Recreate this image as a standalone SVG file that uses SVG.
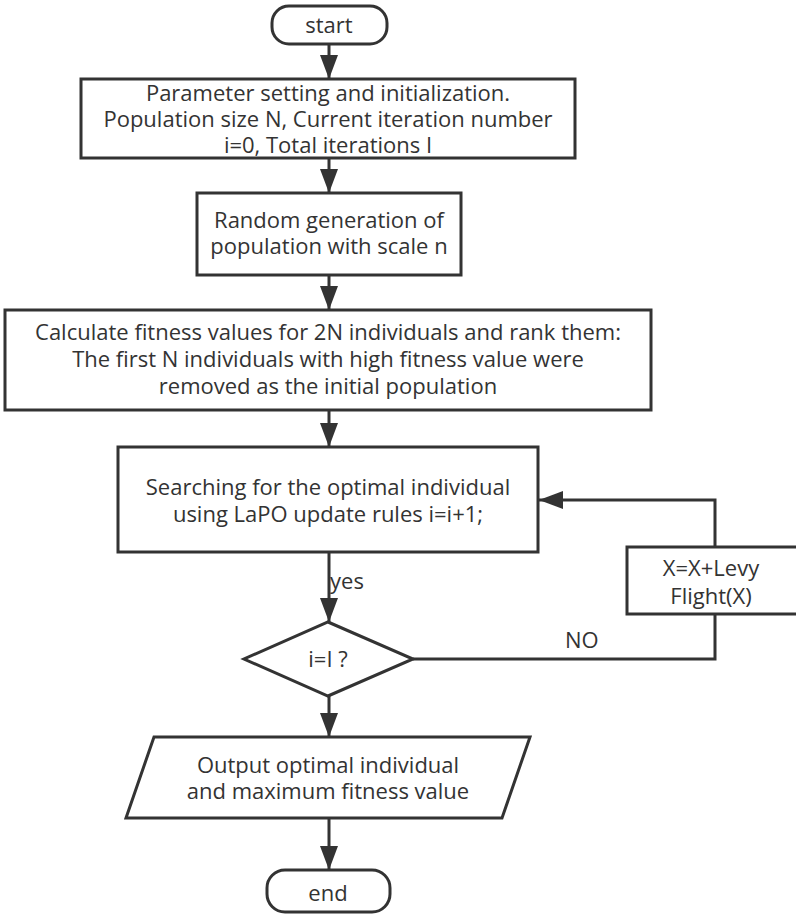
<svg xmlns="http://www.w3.org/2000/svg" width="796" height="916" viewBox="0 0 796 916">
  <defs>
    <!-- filled triangular head, drawn pointing along +x so orient="auto" follows the line -->
    <marker id="arrow" markerUnits="userSpaceOnUse" markerWidth="24" markerHeight="18" viewBox="0 0 24 18" refX="24" refY="9" orient="auto">
      <path d="M0,0 L24,9 L0,18 Z" fill="#333"/>
    </marker>
    <style>
      .shape { fill: #fff; stroke: #333; stroke-width: 3; }
      .edge { fill: none; stroke: #333; stroke-width: 3; }
      .label { font-family: "Open Sans", "Noto Sans", "Liberation Sans", sans-serif; font-size: 22px; fill: #333; text-anchor: middle; }
      .tag { font-family: "Open Sans", "Noto Sans", "Liberation Sans", sans-serif; font-size: 22px; fill: #333; }
    </style>
  </defs>

  <rect width="796" height="916" fill="#fff"/>

  <g id="connectors">
    <line class="edge" x1="329" y1="44" x2="329" y2="79" marker-end="url(#arrow)"/>
    <line class="edge" x1="329" y1="158" x2="329" y2="193" marker-end="url(#arrow)"/>
    <line class="edge" x1="329" y1="275" x2="329" y2="310" marker-end="url(#arrow)"/>
    <line class="edge" x1="329" y1="410" x2="329" y2="447" marker-end="url(#arrow)"/>
    <line class="edge" x1="329" y1="552" x2="329" y2="622" marker-end="url(#arrow)"/>
    <line class="edge" x1="329" y1="696" x2="329" y2="737" marker-end="url(#arrow)"/>
    <line class="edge" x1="329" y1="818" x2="329" y2="870" marker-end="url(#arrow)"/>
    <!-- "no" branch: out of the decision, up into the Levy step, back to the search box -->
    <polyline class="edge" points="413,659 715,659 715,614"/>
    <polyline class="edge" points="715,547 715,500 539,500" marker-end="url(#arrow)"/>
    <text class="tag" x="330" y="589">yes</text>
    <text class="tag" x="565" y="648">NO</text>
  </g>

  <g id="start">
    <rect class="shape" x="272" y="6" width="115" height="38" rx="17"/>
    <text class="label" x="329" y="33">start</text>
  </g>

  <g id="init">
    <rect class="shape" x="81" y="79" width="494" height="79"/>
    <text class="label" x="328" y="101">Parameter setting and initialization.</text>
    <text class="label" x="328" y="127">Population size N, Current iteration number</text>
    <text class="label" x="328" y="153">i=0, Total iterations I</text>
  </g>

  <g id="random">
    <rect class="shape" x="197" y="193" width="264" height="82"/>
    <text class="label" x="329" y="228">Random generation of</text>
    <text class="label" x="329" y="254">population with scale n</text>
  </g>

  <g id="fitness">
    <rect class="shape" x="5" y="310" width="646" height="100"/>
    <text class="label" x="328" y="340">Calculate fitness values for 2N individuals and rank them:</text>
    <text class="label" x="328" y="367">The first N individuals with high fitness value were</text>
    <text class="label" x="328" y="394">removed as the initial population</text>
  </g>

  <g id="search">
    <rect class="shape" x="118" y="447" width="420" height="105"/>
    <text class="label" x="328" y="495">Searching for the optimal individual</text>
    <text class="label" x="328" y="522">using LaPO update rules i=i+1;</text>
  </g>

  <g id="levy">
    <rect class="shape" x="627" y="547" width="172" height="67"/>
    <text class="label" x="711" y="576">X=X+Levy</text>
    <text class="label" x="711" y="604">Flight(X)</text>
  </g>

  <g id="check">
    <polygon class="shape" points="328,622 413,659 328,696 244,659"/>
    <text class="label" x="328" y="667">i=I ?</text>
  </g>

  <g id="output">
    <polygon class="shape" points="154,737 530,737 502,818 126,818"/>
    <text class="label" x="328" y="773">Output optimal individual</text>
    <text class="label" x="328" y="799">and maximum fitness value</text>
  </g>

  <g id="end">
    <rect class="shape" x="267" y="870" width="123" height="42" rx="18"/>
    <text class="label" x="328" y="901">end</text>
  </g>
</svg>
